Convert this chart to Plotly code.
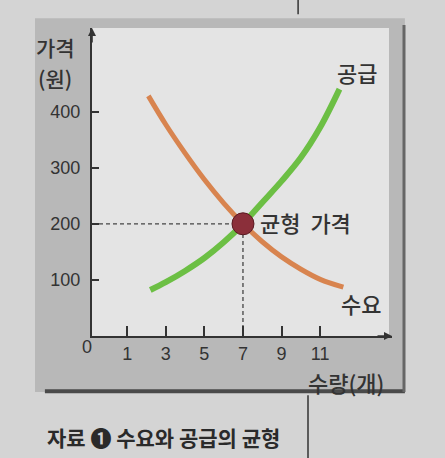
import plotly.graph_objects as go

# ---- data ----
demand_q = [2.1, 3.0, 4.0, 5.0, 6.0, 7.0, 8.0, 9.0, 10.0, 11.0, 12.2]
demand_p = [428, 377, 326, 279, 237, 200, 168, 141, 119, 101, 87]
supply_q = [2.2, 3.0, 4.0, 5.0, 6.0, 7.0, 8.0, 9.0, 10.0, 11.0, 12.0]
supply_p = [82, 96, 116, 139, 167, 200, 238, 276, 318, 372, 440]
eq_q = 7
eq_p = 200
x_tick_vals = [1, 3, 5, 7, 9, 11]
y_tick_vals = [100, 200, 300, 400]

x_range = [-0.82, 14.72]
y_range = [0, 549]

KR = "Noto Sans CJK KR"
NUM = "Liberation Sans, Arial, sans-serif"
TXT = "#333333"

fig = go.Figure()

# dashed guide lines
fig.add_trace(go.Scatter(x=[x_range[0], eq_q], y=[eq_p, eq_p], mode="lines",
                         line=dict(color="#444", width=1.3, dash="4px,3px"),
                         hoverinfo="skip", showlegend=False))
fig.add_trace(go.Scatter(x=[eq_q, eq_q], y=[0, eq_p], mode="lines",
                         line=dict(color="#444", width=1.3, dash="4px,3px"),
                         hoverinfo="skip", showlegend=False))

# curves
fig.add_trace(go.Scatter(x=demand_q, y=demand_p, mode="lines",
                         line=dict(color="#d8844f", width=5, shape="spline"),
                         hoverinfo="skip", showlegend=False))
fig.add_trace(go.Scatter(x=supply_q, y=supply_p, mode="lines",
                         line=dict(color="#6cbf44", width=6, shape="spline"),
                         hoverinfo="skip", showlegend=False))
# equilibrium point
fig.add_trace(go.Scatter(x=[eq_q], y=[eq_p], mode="markers",
                         marker=dict(size=22, color="#8b2f3a",
                                     line=dict(color="#5a1a22", width=1)),
                         hoverinfo="skip", showlegend=False))

shapes = [
    # gray frame
    dict(type="rect", xref="paper", yref="paper", x0=-0.19, x1=1.043, y0=-0.182, y1=1.032,
         fillcolor="#b8b8b8", line=dict(width=0), layer="below"),
    # light panel
    dict(type="rect", xref="paper", yref="paper", x0=0, x1=0.99, y0=0, y1=1.0,
         fillcolor="#e4e4e4", line=dict(width=0), layer="below"),
    # shadow edges
    dict(type="line", xref="paper", yref="paper", x0=-0.157, x1=1.043, y0=-0.179, y1=-0.179,
         line=dict(color="#4a4a4a", width=4)),
    dict(type="line", xref="paper", yref="paper", x0=1.04, x1=1.04, y0=1.01, y1=-0.182,
         line=dict(color="#666", width=3)),
    # page rules
    dict(type="line", xref="paper", yref="paper", x0=0.687, x1=0.687, y0=1.091, y1=1.045,
         line=dict(color="#333", width=1.5)),
    dict(type="line", xref="paper", yref="paper", x0=0.72, x1=0.72, y0=-0.192, y1=-0.4,
         line=dict(color="#333", width=1.5)),
]

ann = [
    dict(text="가격", x=-0.123, y=0.938, font=dict(family=KR, size=21, color=TXT, weight=500)),
    dict(text="(원)", x=-0.123, y=0.838, font=dict(family=KR, size=21, color=TXT, weight=500)),
    dict(text="공급", x=0.883, y=0.857, font=dict(family=KR, size=22, color=TXT, weight=500)),
    dict(text="균형  가격", x=0.553, y=0.37, xanchor="left",
         font=dict(family=KR, size=22, color=TXT, weight=500)),
    dict(text="수요", x=0.897, y=0.107, font=dict(family=KR, size=22, color=TXT, weight=500)),
    dict(text="수량(개)", x=0.847, y=-0.149, font=dict(family=KR, size=22, color=TXT, weight=500)),
    dict(text="0", x=-0.017, y=-0.036, font=dict(family=NUM, size=18, color=TXT)),
    dict(text="<b>자료 ❶ 수요와 공급의 균형</b>", x=-0.157, y=-0.328, xanchor="left",
         font=dict(family=KR, size=21, color="#2a2a2a")),
]
annotations = []
for a in ann:
    d = dict(xref="paper", yref="paper", showarrow=False, xanchor=a.get("xanchor", "center"),
             yanchor="middle")
    d.update(a)
    annotations.append(d)

# axis arrowheads
annotations.append(dict(xref="paper", yref="paper", x=0, y=1.0, ax=0, ay=16, text="",
                        showarrow=True, arrowhead=2, arrowsize=1, arrowwidth=1.6, arrowcolor="#333"))
annotations.append(dict(xref="paper", yref="paper", x=1.0, y=0, ax=-16, ay=0, text="",
                        showarrow=True, arrowhead=2, arrowsize=1, arrowwidth=1.6, arrowcolor="#333"))

fig.update_layout(
    width=445, height=458,
    margin=dict(l=92, r=53, t=28, b=122),
    paper_bgcolor="#d4d4d4",
    plot_bgcolor="rgba(0,0,0,0)",
    shapes=shapes,
    annotations=annotations,
    xaxis=dict(range=x_range, tickvals=x_tick_vals, showgrid=False, zeroline=False,
               showline=True, linecolor="#333", linewidth=2,
               ticks="inside", ticklen=10, tickwidth=1.5, tickcolor="#333",
               tickfont=dict(family=NUM, size=18, color=TXT), ticklabelstandoff=0),
    yaxis=dict(range=y_range, tickvals=y_tick_vals, showgrid=False, zeroline=False,
               showline=True, linecolor="#333", linewidth=2,
               ticks="inside", ticklen=7, tickwidth=1.5, tickcolor="#333",
               tickfont=dict(family=NUM, size=18, color=TXT), ticklabelstandoff=6),
)

fig.write_html("out.html", config={"displayModeBar": False},
               post_script="document.body.style.margin='0';document.body.style.background='#d4d4d4';")
